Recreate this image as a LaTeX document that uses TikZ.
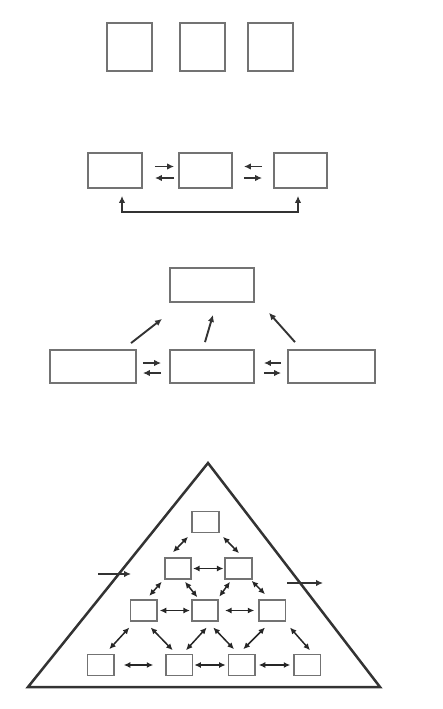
\documentclass[tikz,border=0pt]{standalone}
\usetikzlibrary{calc,arrows.meta}
\begin{document}
\begin{tikzpicture}[x=1pt,y=-1pt]
    % Styles (MODIFIABLES)
    \tikzstyle{boite}=[draw=black!55,line width=1.8pt,fill=white,inner sep=0pt]
    \tikzstyle{carre}=[boite,minimum width=45pt,minimum height=48pt]
    \tikzstyle{case}=[boite,minimum width=53pt,minimum height=35pt]
    \tikzstyle{large}=[boite,minimum width=85pt,minimum height=33pt]
    \tikzstyle{petite}=[boite,line width=1.6pt,minimum width=26.5pt,minimum height=21pt]
    \tikzstyle{fleche}=[->,>={Latex[length=7pt,width=6.5pt]},line width=1.9pt,draw=black!80]
    \tikzstyle{fleches}=[<->,>={Latex[length=7pt,width=6.5pt]},line width=1.9pt,draw=black!80]
    \tikzstyle{petitefleche}=[<->,>={Latex[length=6.5pt,width=6pt]},line width=1.5pt,draw=black!85]
    \tikzstyle{bord}=[line width=2.5pt,draw=black!80,line join=miter]
    % Cadre
    \useasboundingbox (0,0) rectangle (442,709);
    % Noeuds : trois cases seules
    \node[carre] (c1) at (129.5,47) {};
    \node[carre] (c2) at (202.5,47) {};
    \node[carre] (c3) at (270.5,47) {};
    % Noeuds : trois cases en ligne
    \node[case,minimum width=54pt] (a1) at (115,170.5) {};
    \node[case] (a2) at (205.5,170.5) {};
    \node[case] (a3) at (300.5,170.5) {};
    % Noeuds : trois cases et une case au-dessus
    \node[large,minimum width=84pt,minimum height=34pt] (t) at (212,285) {};
    \node[large,minimum width=86pt] (b1) at (93,366.5) {};
    \node[large,minimum width=84pt] (b2) at (212,366.5) {};
    \node[large,minimum width=87pt] (b3) at (331.5,366.5) {};
    % Noeuds : pyramide
    \coordinate (sommet) at (208,463);
    \coordinate (baseG) at (28,687);
    \coordinate (baseD) at (380,687);
    \node[petite] (p1) at (205.5,522) {};
    \node[petite] (p21) at (178,568.5) {};
    \node[petite] (p22) at (238.5,568.5) {};
    \node[petite] (p31) at (143.7,610.5) {};
    \node[petite] (p32) at (205,610.5) {};
    \node[petite] (p33) at (272.3,610.5) {};
    \node[petite] (p41) at (100.7,665) {};
    \node[petite] (p42) at (179.3,665) {};
    \node[petite] (p43) at (241.7,665) {};
    \node[petite] (p44) at (307.3,665) {};
    \coordinate (entreeA) at (98,574);
    \coordinate (entreeB) at (131,574);
    \coordinate (sortieA) at (287,583);
    \coordinate (sortieB) at (323,583);
    % Arcs : trois cases en ligne
    \draw[fleche,shorten <=12pt,shorten >=4pt] ($(a1.east)+(0,-4)$)--($(a2.west)+(0,-4)$) ;
    \draw[fleche,shorten <=4pt,shorten >=12pt] ($(a2.west)+(0,7.5)$)--($(a1.east)+(0,7.5)$) ;
    \draw[fleche,shorten <=11pt,shorten >=11pt] ($(a3.west)+(0,-4)$)--($(a2.east)+(0,-4)$) ;
    \draw[fleche,shorten <=11pt,shorten >=11pt] ($(a2.east)+(0,7.5)$)--($(a3.west)+(0,7.5)$) ;
    \draw[fleches] ($(a1.south)+(7,7)$) |- ($(a3.south)+(-2.5,23)$) -- ($(a3.south)+(-2.5,7)$) ;

    % Arcs : trois cases et une case au-dessus
    \draw[fleche] ($(b1.north)+(38,-6)$)--($(t.south)+(-50,16)$) ;
    \draw[fleche] ($(b2.north)+(-7,-7)$)--($(t.south)+(1,12)$) ;
    \draw[fleche] ($(b3.north)+(-36.5,-7)$)--($(t.south)+(57,10)$) ;
    \draw[fleche,shorten <=6pt,shorten >=8pt] ($(b1.east)+(0,-3.5)$)--($(b2.west)+(0,-3.5)$) ;
    \draw[fleche,shorten <=8pt,shorten >=6pt] ($(b2.west)+(0,6.5)$)--($(b1.east)+(0,6.5)$) ;
    \draw[fleche,shorten <=6pt,shorten >=9pt] ($(b3.west)+(0,-3.5)$)--($(b2.east)+(0,-3.5)$) ;
    \draw[fleche,shorten <=9pt,shorten >=6pt] ($(b2.east)+(0,6.5)$)--($(b3.west)+(0,6.5)$) ;

    % Arcs : pyramide
    \draw[bord] (sommet)--(baseG)--(baseD)--cycle ;
    \draw[fleche,line width=2pt] (entreeA)--(entreeB) ;
    \draw[fleche,line width=2pt] (sortieA)--(sortieB) ;
    \draw[petitefleche] ($(p1.south)+(-17.5,3.5)$)--($(p21.north)+(-5,-5)$) ;
    \draw[petitefleche] ($(p1.south)+(17.5,3.5)$)--($(p22.north)+(0.5,-4)$) ;
    \draw[petitefleche] ($(p21.south)+(-16.3,2)$)--($(p31.north)+(5.6,-3.3)$) ;
    \draw[petitefleche] ($(p21.south)+(7,2)$)--($(p32.north)+(-7.7,-2)$) ;
    \draw[petitefleche] ($(p22.south)+(-8.5,2)$)--($(p32.north)+(14.3,-2.5)$) ;
    \draw[petitefleche] ($(p22.south)+(13.2,1)$)--($(p33.north)+(-7.3,-5)$) ;
    \draw[petitefleche] ($(p31.south)+(-14.4,5.7)$)--($(p41.north)+(8.6,-4.5)$) ;
    \draw[petitefleche] ($(p31.south)+(7,5.7)$)--($(p42.north)+(-6.6,-3.5)$) ;
    \draw[petitefleche] ($(p32.south)+(1.7,5.7)$)--($(p42.north)+(6.7,-3.5)$) ;
    \draw[petitefleche] ($(p32.south)+(8.3,5.7)$)--($(p43.north)+(-7.7,-4.5)$) ;
    \draw[petitefleche] ($(p33.south)+(-7.3,5.7)$)--($(p43.north)+(1.6,-4.5)$) ;
    \draw[petitefleche] ($(p33.south)+(17.7,5.7)$)--($(p44.north)+(2.7,-3.5)$) ;

    \draw[petitefleche,shorten <=1pt,shorten >=1pt] (p21.east)--(p22.west) ;
    \draw[petitefleche,shorten <=2pt,shorten >=1pt] (p31.east)--(p32.west) ;
    \draw[petitefleche,shorten <=6pt,shorten >=4pt] (p32.east)--(p33.west) ;
    \draw[petitefleche,shorten <=9pt,shorten >=12pt] (p41.east)--(p42.west) ;
    \draw[petitefleche,shorten <=1pt,shorten >=2pt] (p42.east)--(p43.west) ;
    \draw[petitefleche,shorten <=3pt,shorten >=3pt] (p43.east)--(p44.west) ;
  \end{tikzpicture}
\end{document}
